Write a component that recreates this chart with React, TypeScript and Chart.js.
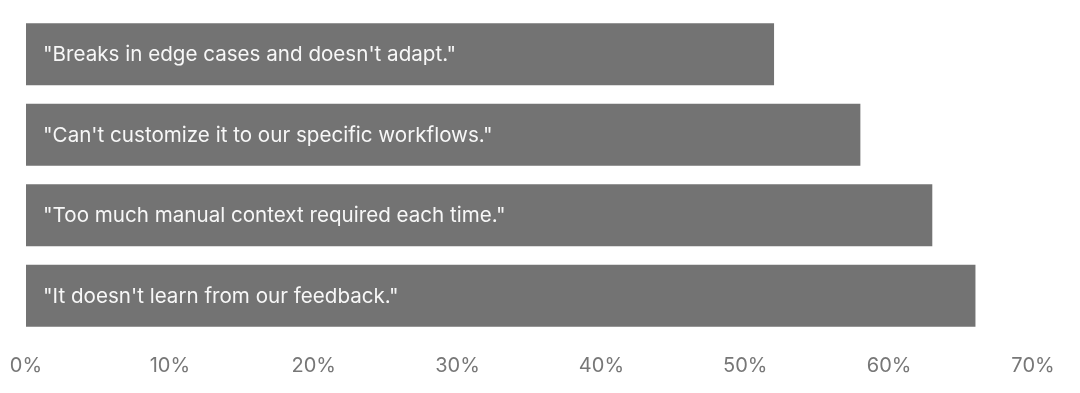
import React, { useEffect, useRef } from "react";
import { Chart, registerables } from "chart.js";

Chart.register(...registerables);

const categories = [
  '"Breaks in edge cases and doesn\'t adapt."',
  '"Can\'t customize it to our specific workflows."',
  '"Too much manual context required each time."',
  '"It doesn\'t learn from our feedback."',
];
const values = [52, 58, 63, 66];
const tickValues = [0, 10, 20, 30, 40, 50, 60, 70];

const FONT = "Inter, sans-serif";

const insideLabels = {
  id: "insideLabels",
  afterDatasetsDraw(chart: any) {
    const ctx = chart.ctx;
    const meta = chart.getDatasetMeta(0);
    ctx.save();
    ctx.fillStyle = "#f7f7f7";
    ctx.font = `20.6px ${FONT}`;
    ctx.textBaseline = "middle";
    ctx.textAlign = "left";
    meta.data.forEach((bar: any, i: number) => {
      ctx.fillText(categories[i], bar.base + 17, bar.y + 1);
    });
    ctx.restore();
  },
};

export default function App() {
  const ref = useRef<HTMLCanvasElement | null>(null);
  useEffect(() => {
    document.body.style.margin = "0";
    const chart = new Chart(ref.current!, {
      type: "bar",
      data: {
        labels: categories,
        datasets: [
          {
            data: values,
            backgroundColor: "#737373",
            borderWidth: 0,
            barPercentage: 0.77,
            categoryPercentage: 1,
          },
        ],
      },
      plugins: [insideLabels],
      options: {
        indexAxis: "y",
        animation: false,
        responsive: false,
        maintainAspectRatio: false,
        layout: { padding: { left: 26, right: 47, top: 14, bottom: 17 } },
        plugins: { legend: { display: false }, tooltip: { enabled: false } },
        scales: {
          y: { display: false },
          x: {
            min: 0,
            max: 70,
            grid: { display: false, drawTicks: false },
            border: { display: false },
            afterBuildTicks: (axis: any) => {
              axis.ticks = tickValues.map((v) => ({ value: v }));
            },
            afterFit: (axis: any) => {
              axis.paddingLeft = 0;
              axis.paddingRight = 0;
              axis.height = 40;
            },
            ticks: {
              padding: 18,
              color: "#777777",
              font: { family: FONT, size: 20 },
              maxRotation: 0,
              callback: (v: any) => `${v}%`,
            },
          },
        },
      },
    });
    return () => chart.destroy();
  }, []);
  return <canvas ref={ref} width={1080} height={393} style={{ display: "block" }} />;
}
